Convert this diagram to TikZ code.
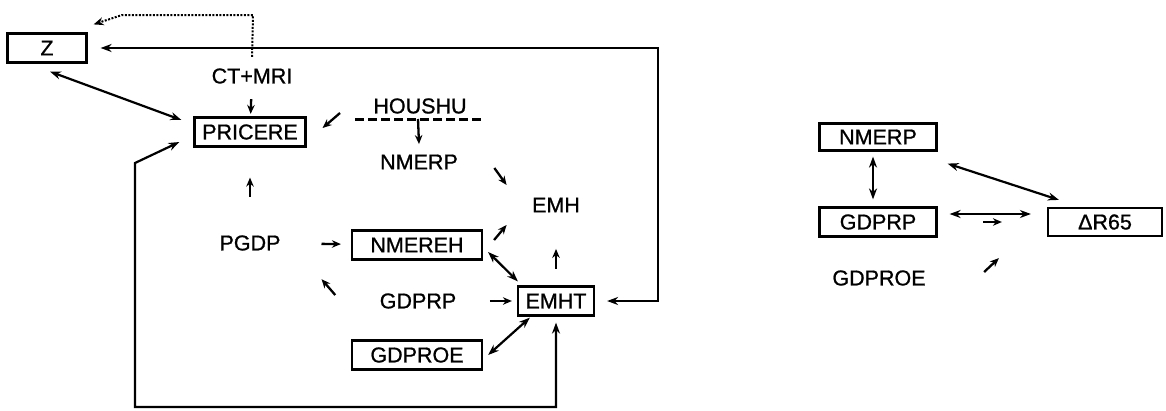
\documentclass[tikz,border=0pt]{standalone}
\usepackage{fontspec}
\setmainfont{Liberation Sans}
\newfontfamily\diagfont[FakeBold=0.9]{Liberation Sans}
\usetikzlibrary{arrows.meta}
\tikzset{
  box/.style={draw,line width=2.2pt,inner sep=0pt,minimum height=29pt},
  arr/.style={-{Stealth[length=9pt,width=7.5pt]},line width=2.3pt},
  darr/.style={{Stealth[length=11pt,width=8pt]}-{Stealth[length=11pt,width=8pt]},
               line width=2.2pt},
  dotarr/.style={-{Stealth[length=10pt,width=8pt]},line width=2pt,
                 dash pattern=on 2pt off 1.5pt},
  hline/.style={line width=3pt,dash pattern=on 9pt off 4pt},
}

\begin{document}
\begin{tikzpicture}[x=1pt,y=-1pt,
                    every node/.style={font=\diagfont\fontsize{21.5}{24}\selectfont}]
\useasboundingbox (0,0) rectangle (1166,410);
\node[box,minimum width=79pt] (z) at (47,48) {Z};
\node (ctmri) at (252,76) {CT+MRI};
\node[box,minimum width=111pt] (pricere) at (250,132) {PRICERE};
\node (houshu) at (420,106) {HOUSHU};
\node (nmerp) at (419,162) {NMERP};
\node (emh) at (556,205) {EMH};
\node (pgdp) at (250,243) {PGDP};
\node[box,minimum width=130pt] (nmereh) at (417,245) {NMEREH};
\node (gdprp) at (418,301) {GDPRP};
\node[box,minimum width=76pt] (emht) at (556,301) {EMHT};
\node[box,minimum width=130pt] (gdproe) at (417,355) {GDPROE};
\coordinate (dtop) at (253,15);
\coordinate (dbend) at (122,15);
\coordinate (rt) at (658,48);
\coordinate (hl) at (355,119);
\coordinate (hr) at (483,119);
\coordinate (hm) at (418,119);
\coordinate (hsw) at (340,113);
\coordinate (lc1) at (135,163);
\coordinate (lc2) at (135,407);
\draw[dotarr] ([yshift=8pt]ctmri.north) -- (dtop) -- (dbend)
  -- ([xshift=6pt,yshift=8pt]z.north east);
\draw[darr,shorten <=12pt,shorten >=13pt] (emht.east) -| (rt) -- (z.east);
\draw[darr] ([xshift=3pt,yshift=-8pt]z.south)
  -- ([xshift=-12pt,yshift=12pt]pricere.west);
\draw[arr,shorten <=12pt,shorten >=2.5pt] (ctmri) -- (pricere);
\draw[arr] (hsw) -- ([xshift=16pt,yshift=4pt]pricere.east);
\draw[hline] (hl) -- (hr);
\draw[arr] (hm) -- ([yshift=7pt]nmerp.north);
\draw[arr] ([xshift=33pt,yshift=-6pt]nmerp.east)
  -- ([xshift=-22pt,yshift=20pt]emh.west);
\draw[arr,shorten <=35pt,shorten >=30pt] (pgdp) -- (pricere);
\draw[arr,shorten <=37.5pt,shorten >=10pt] (pgdp) -- (nmereh);
\draw[arr] ([xshift=11pt,yshift=5pt]nmereh.east)
  -- ([xshift=-22pt,yshift=-20pt]emh.west);
\draw[arr,shorten <=16.5pt,shorten >=33pt] (emht) -- (emh);
\draw[darr] ([xshift=5pt,yshift=-7pt]nmereh.east)
  -- ([xshift=1pt,yshift=4pt]emht.north west);
\draw[arr] ([xshift=-41pt,yshift=6pt]gdprp.west)
  -- ([xshift=37.5pt,yshift=-25pt]pgdp.south east);
\draw[arr,shorten <=30pt,shorten >=5pt] (gdprp) -- (emht);
\draw[darr] ([xshift=13pt,yshift=-1pt]emht.south west)
  -- ([xshift=5pt]gdproe.east);
\draw[darr] ([xshift=-14pt,yshift=-10pt]pricere.west) -- (lc1) -- (lc2)
  -| ([yshift=-6pt]emht.south);
\node[box,minimum width=117pt,minimum height=27pt] (nmerpR) at (878,137) {NMERP};
\node[box,minimum width=117pt] (gdprpR) at (878,222) {GDPRP};
\node[box,minimum width=114pt,minimum height=28pt] (dr65) at (1105,222) {ΔR65};
\node (gdproeR) at (879,278) {GDPROE};
\draw[darr,shorten <=5pt,shorten >=7pt] ([xshift=-5pt]nmerpR.south)
  -- ([xshift=-5pt]gdprpR.north);
\draw[darr] ([xshift=10pt,yshift=-12pt]nmerpR.south east)
  -- ([xshift=12pt,yshift=7pt]dr65.north west);
\draw[darr,shorten <=12pt,shorten >=16pt] ([yshift=8pt]gdprpR.east)
  -- ([yshift=8pt]dr65.west);
\draw[arr,shorten <=45.5pt,shorten >=45pt] (gdprpR) -- (dr65);
\draw[arr] ([xshift=55pt,yshift=6pt]gdproeR.east)
  -- ([xshift=-48pt,yshift=-21pt]dr65.south west);
\end{tikzpicture}
\end{document}
